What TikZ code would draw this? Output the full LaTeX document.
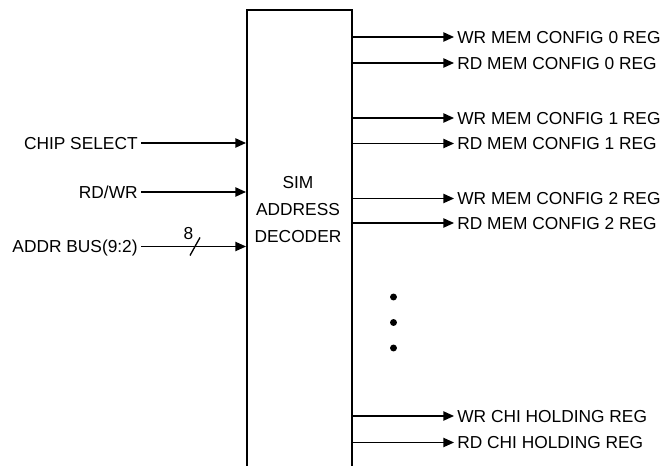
\documentclass[tikz,border=0pt]{standalone}
\usepackage{fontspec}
\setmainfont{Liberation Sans}
\usetikzlibrary{arrows.meta}

\tikzset{
  sig/.style={font=\fontsize{13}{15}\selectfont,inner sep=2pt,text height=9.3pt,text depth=0pt},
  decbox/.style={draw,line width=1.5pt,minimum width=78.75pt,minimum height=352.5pt,inner sep=0pt},
}

\begin{document}
\begin{tikzpicture}[x=0.75pt,y=-0.75pt,line width=1pt,>={Triangle[length=8pt,width=7pt]}]
  \useasboundingbox (0,0) rectangle (664,466);
  \clip (0,0) rectangle (664,466);
  % decoder block, open at the bottom
  \node[decbox] (dec) at (299.5,245) {};
  \node[align=center,inner sep=0pt,font=\fontsize{13}{20.5}\selectfont] (dectxt) at (298,209.5) {SIM\\ADDRESS\\DECODER};
  % inputs
  \node[sig,anchor=east] (cs) at (141,143) {CHIP SELECT};
  \node[sig,anchor=east] (rw) at (141,192) {RD/WR};
  \node[sig,anchor=east] (ab) at (141,246.5) {ADDR BUS(9:2)};
  \draw[->] (cs) -- (cs -| dec.west);
  \draw[->] (rw) -- (rw -| dec.west);
  \draw[->] (ab) -- (ab -| dec.west);
  \coordinate (bus) at (195,246.5);
  \draw (bus) ++(-5,9) -- ++(10,-18);
  \node[sig] (bw) at (188.5,233) {8};
  % outputs
  \foreach \i/\y/\txt in {1/37/WR MEM CONFIG 0 REG,2/63/RD MEM CONFIG 0 REG,
      3/118/WR MEM CONFIG 1 REG,4/143.5/RD MEM CONFIG 1 REG,
      5/198.5/WR MEM CONFIG 2 REG,6/223/RD MEM CONFIG 2 REG,
      7/416/WR CHI HOLDING REG,8/442.5/RD CHI HOLDING REG}{
    \node[sig,anchor=west] (o\i) at (454,\y) {\txt};
    \draw[->] (dec.east |- o\i.west) -- (o\i.west);
  }
  \foreach \y in {297,322.5,348}
    \fill (393.5,\y) circle (2.6pt);
\end{tikzpicture}
\end{document}
